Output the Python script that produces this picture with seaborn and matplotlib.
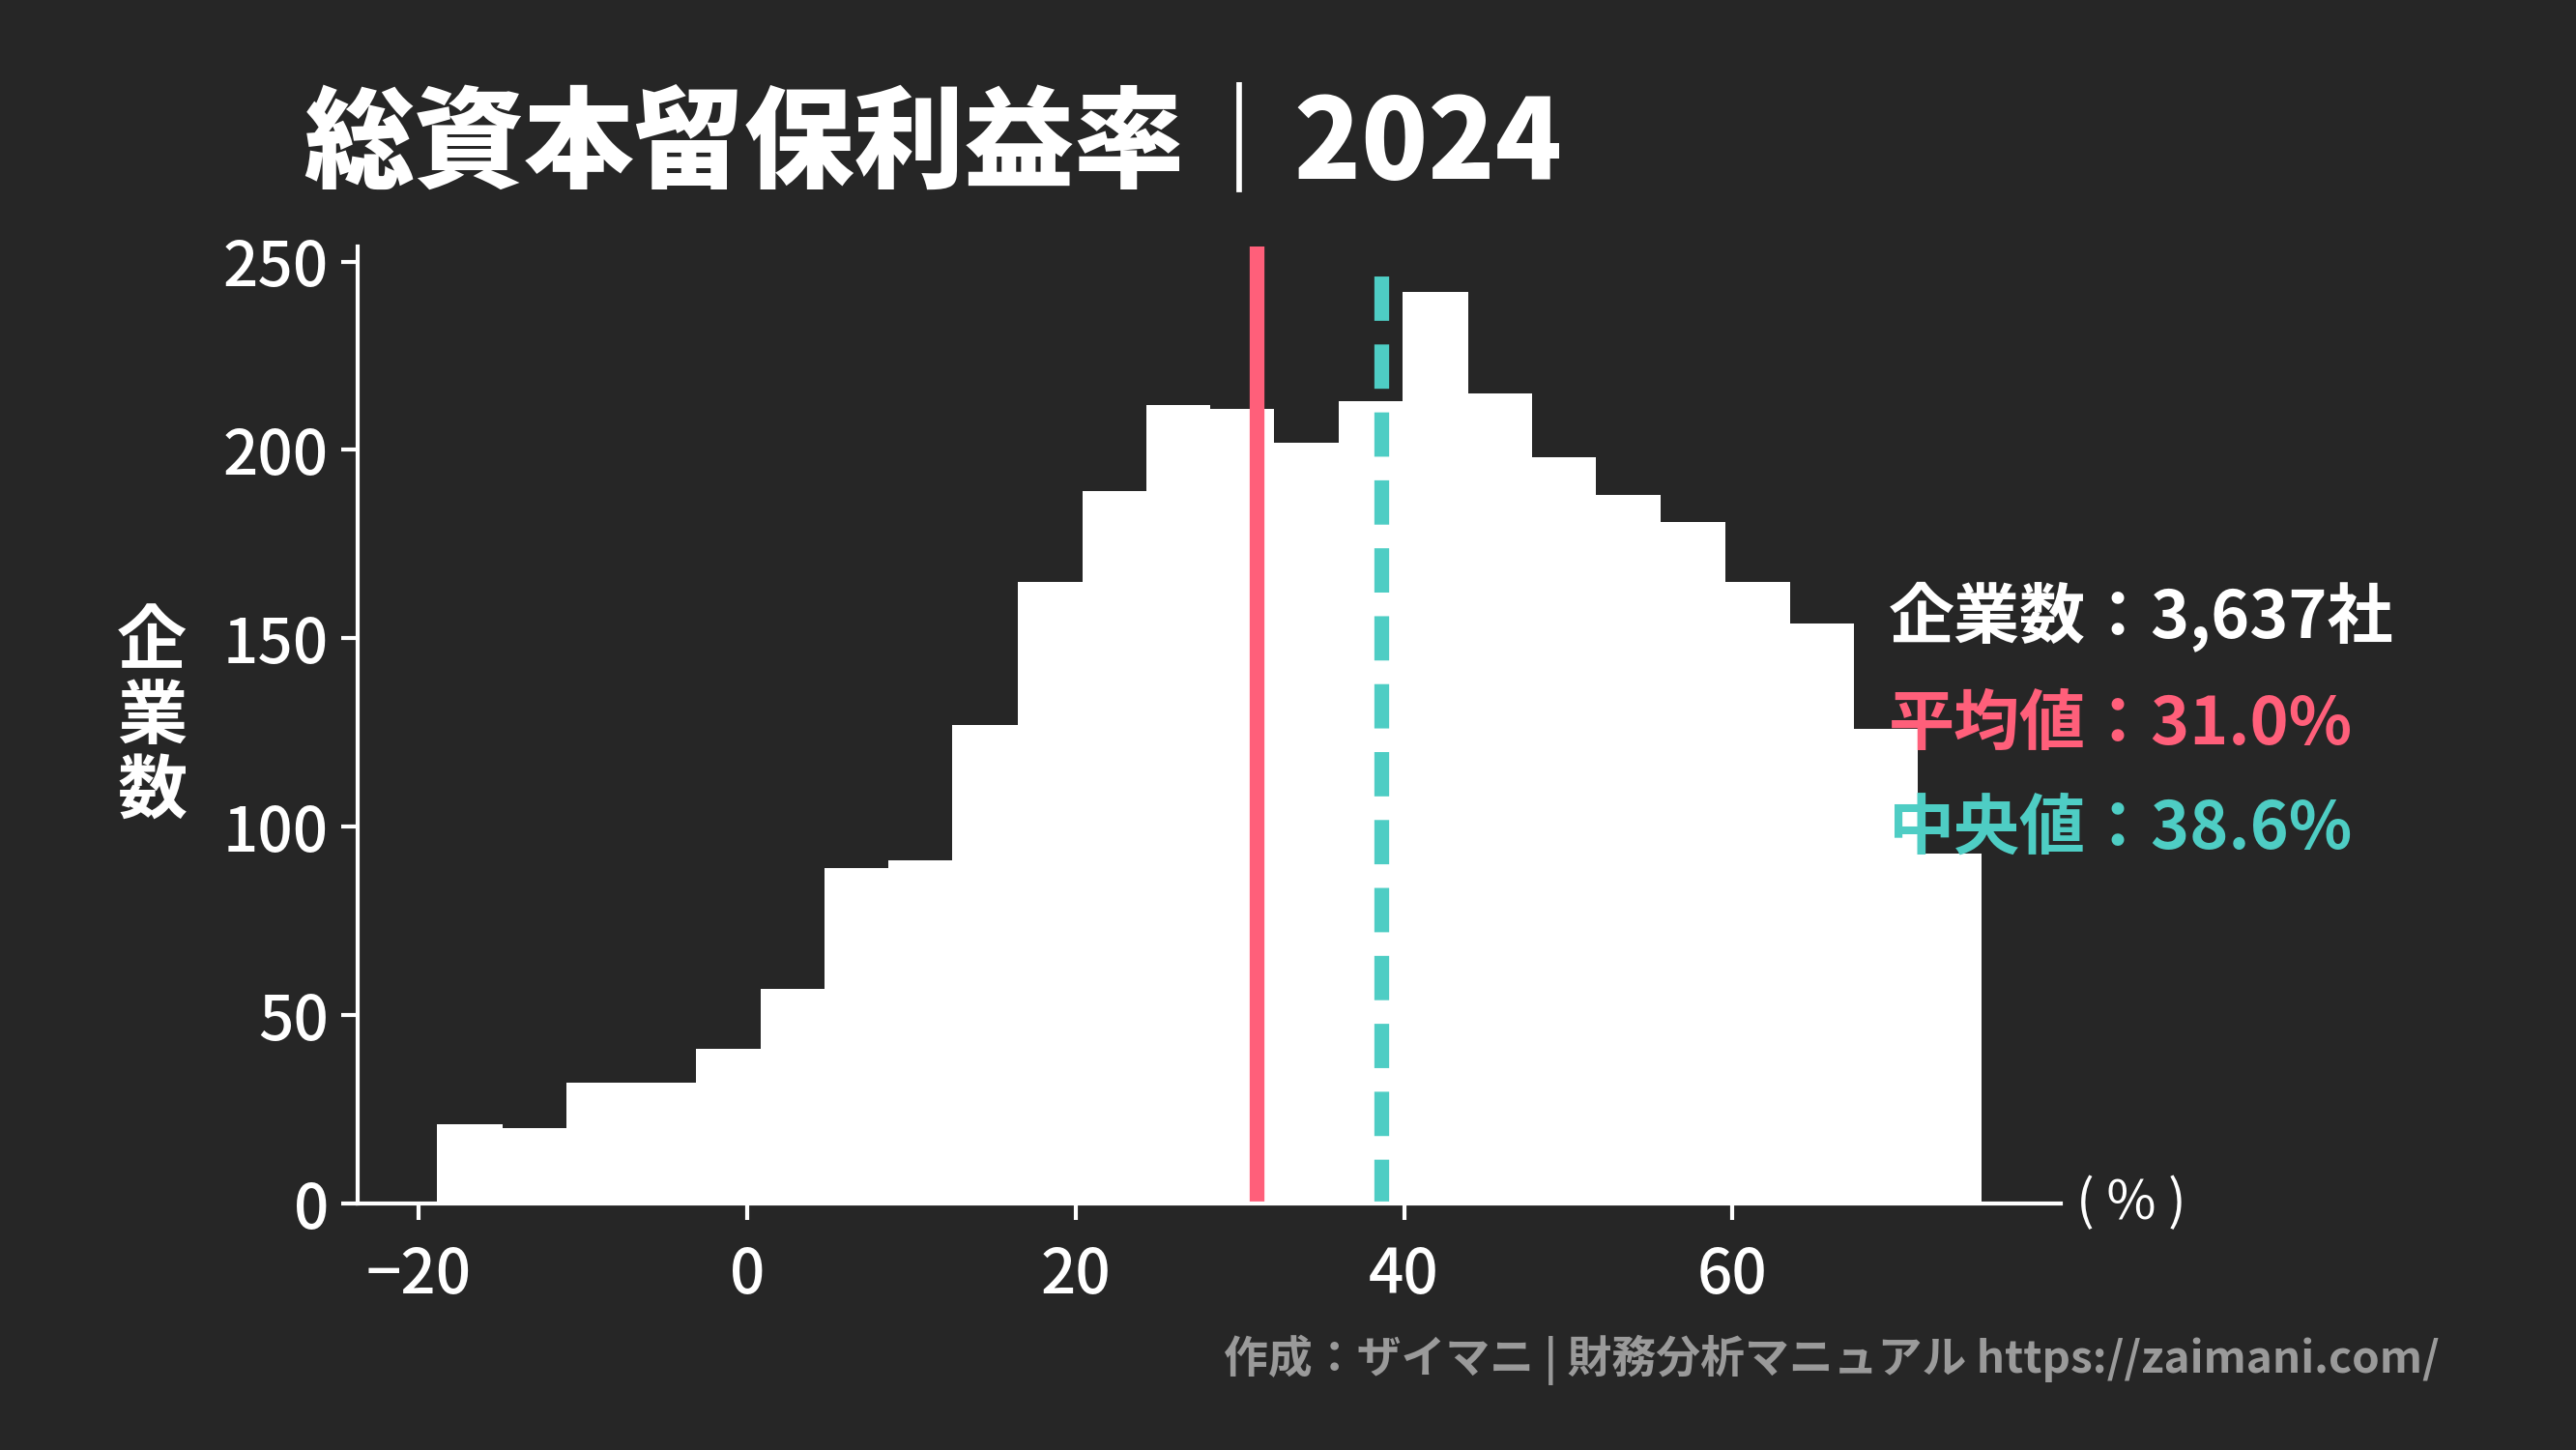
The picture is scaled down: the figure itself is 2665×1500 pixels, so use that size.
import matplotlib
matplotlib.use("Agg")
import matplotlib.pyplot as plt
import seaborn as sns
import numpy as np
import pandas as pd

bin_edges = [-18.9, -14.9, -11.0, -7.1, -3.1, 0.8, 4.7, 8.6, 12.5, 16.5, 20.4, 24.3,
             28.2, 32.1, 36.0, 39.9, 43.9, 47.8, 51.7, 55.6, 59.6, 63.5, 67.4, 71.3, 75.2]
counts = [21, 20, 32, 32, 41, 57, 89, 91, 127, 165, 189, 212,
          211, 202, 213, 242, 215, 198, 188, 181, 165, 154, 126, 93]
mean_val = 31.0
median_val = 38.6
n_companies = "3,637"
title = "総資本留保利益率｜2024"

BG = "#262626"
PINK = "#ff5f7a"
TEAL = "#4ecdc4"
FONT = "Noto Sans CJK JP"

centers = [(bin_edges[i] + bin_edges[i + 1]) / 2 for i in range(len(counts))]
df = pd.DataFrame({"x": centers, "w": counts})

fig = plt.figure(figsize=(26.65, 15), dpi=100, facecolor=BG)
ax = fig.add_axes([0.139, 0.17, 0.661, 0.66], facecolor=BG)
sns.histplot(data=df, x="x", weights="w", bins=bin_edges, ax=ax,
             color="white", alpha=1, edgecolor="none", linewidth=0)
ax.set_xlim(-23.7, 80)
ax.set_ylim(0, 254)
ax.axvline(mean_val, color=PINK, lw=11, ymin=0, ymax=1.0)
ax.axvline(median_val, color=TEAL, lw=11, ymin=0, ymax=0.97, ls=(0, (3, 1.6)))

for s in ["top", "right"]:
    ax.spines[s].set_visible(False)
for s in ["left", "bottom"]:
    ax.spines[s].set_color("white")
    ax.spines[s].set_linewidth(3)
ax.set_xticks([-20, 0, 20, 40, 60])
ax.set_xticklabels(["−20", "0", "20", "40", "60"])
ax.set_yticks([0, 50, 100, 150, 200, 250])
ax.tick_params(colors="white", labelsize=46, width=3, length=12)
ax.tick_params(axis="x", pad=18)
ax.tick_params(axis="y", pad=10)
for lab in ax.get_xticklabels() + ax.get_yticklabels():
    lab.set_fontfamily(FONT)
    lab.set_fontweight("medium")
ax.set_xlabel("")
ax.set_ylabel("")

fig.text(0.118, 0.9, title, color="white", fontsize=82, fontweight="black",
         fontfamily=FONT, va="center", ha="left")
fig.text(0.059, 0.505, "企\n業\n数", color="white", fontsize=52, fontweight="bold",
         fontfamily=FONT, va="center", ha="center", linespacing=1.05)
fig.text(0.806, 0.17, "( % )", color="white", fontsize=40, fontfamily=FONT,
         va="center", ha="left")
fig.text(0.733, 0.575, f"企業数：{n_companies}社", color="white", fontsize=49,
         fontweight="bold", fontfamily=FONT, va="center")
fig.text(0.733, 0.5, f"平均値：{mean_val:.1f}%", color=PINK, fontsize=49,
         fontweight="bold", fontfamily=FONT, va="center")
fig.text(0.733, 0.428, f"中央値：{median_val:.1f}%", color=TEAL, fontsize=49,
         fontweight="bold", fontfamily=FONT, va="center")
fig.text(0.947, 0.062, "作成：ザイマニ | 財務分析マニュアル https://zaimani.com/",
         color="#9a9a9a", fontsize=33, fontweight="bold", fontfamily=FONT,
         ha="right", va="center")

fig.savefig("out.png", dpi=100, facecolor=BG)
